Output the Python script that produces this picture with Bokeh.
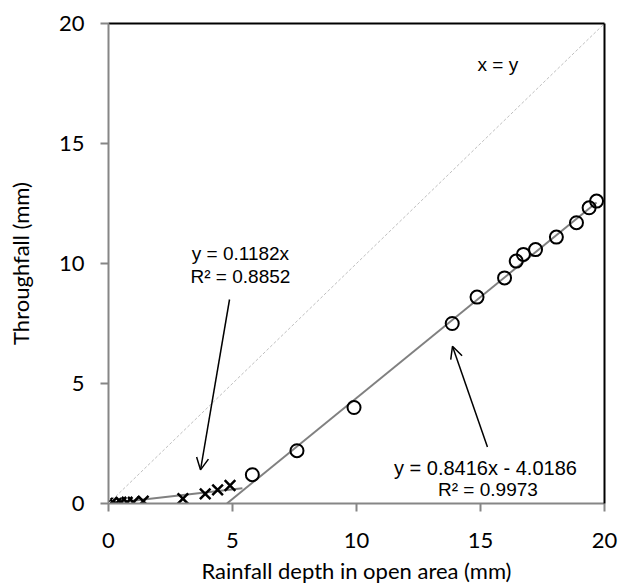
from bokeh.plotting import figure
from bokeh.models import (FixedTicker, LinearAxis, Label, Arrow, OpenHead, Slope, Range1d)
from bokeh.embed import file_html
from bokeh.resources import INLINE

# Data
below_x = [0.0, 0.1, 0.3, 0.5, 0.75, 1.0, 1.4, 3.0, 3.9, 4.4, 4.9]
below_y = [0.0, 0.0, 0.0, 0.05, 0.05, 0.05, 0.1, 0.2, 0.4, 0.57, 0.75]
above_x = [5.8, 7.6, 9.9, 13.86, 14.86, 15.97, 16.44, 16.73, 17.22, 18.06, 18.87, 19.38, 19.68]
above_y = [1.2, 2.2, 4.0, 7.5, 8.6, 9.4, 10.1, 10.38, 10.58, 11.1, 11.7, 12.32, 12.6]
fit1_slope = 0.1182
fit1_x = [0.0, 5.4]
fit2_slope = 0.8416
fit2_intercept = -4.0186
fit2_xmax = 19.68
ticks = [0, 5, 10, 15, 20]

TICK_FONT = "Lato"
ANN_FONT = "Liberation Sans"
AXIS_GRAY = "#868686"

p = figure(width=619, height=586, output_backend="svg", toolbar_location=None,
           x_range=Range1d(0, 20), y_range=Range1d(0, 20),
           min_border_left=108, min_border_right=15, min_border_top=23, min_border_bottom=83)
p.outline_line_color = None
p.xgrid.visible = False
p.ygrid.visible = False
p.background_fill_color = "white"

for ax in (p.xaxis[0], p.yaxis[0]):
    ax.ticker = FixedTicker(ticks=ticks)
    ax.minor_tick_line_color = None
    ax.major_tick_in = 0
    ax.major_tick_out = 8
    ax.major_tick_line_color = AXIS_GRAY
    ax.major_tick_line_width = 2
    ax.axis_line_color = AXIS_GRAY
    ax.axis_line_width = 2
    ax.major_label_text_font = TICK_FONT
    ax.major_label_text_font_size = "22px"
    ax.major_label_text_color = "black"
    ax.axis_label_text_font = TICK_FONT
    ax.axis_label_text_font_size = "22px"
    ax.axis_label_text_font_style = "normal"
    ax.axis_label_text_color = "black"
p.xaxis.axis_label = "Rainfall depth in open area (mm)"
p.yaxis.axis_label = "Throughfall (mm)"
p.xaxis.major_label_standoff = 21
p.yaxis.major_label_standoff = 16
p.xaxis.axis_label_standoff = 6
p.yaxis.axis_label_standoff = 22

for loc in ("above", "right"):
    a = LinearAxis(ticker=FixedTicker(ticks=[]), axis_line_color="black", axis_line_width=2,
                   major_tick_line_color=None, minor_tick_line_color=None,
                   major_label_text_font_size="0px")
    p.add_layout(a, loc)

# x = y reference line
p.add_layout(Slope(gradient=1, y_intercept=0, line_color="#BFBFBF", line_width=1, line_dash="3 2"))

# trend lines
p.line(fit1_x, [fit1_slope * v for v in fit1_x], line_color="#808080", line_width=2)
x2 = [-fit2_intercept / fit2_slope, fit2_xmax]
p.line(x2, [fit2_slope * v + fit2_intercept for v in x2], line_color="#808080", line_width=2)

p.scatter(below_x, below_y, marker="x", size=15, line_color="black", line_width=2.5)
p.scatter(above_x, above_y, marker="circle", size=13, line_color="black", line_width=2,
          fill_color=None)

def lab(x, y, t, size="19px"):
    p.add_layout(Label(x=x, y=y, text=t, text_font=ANN_FONT, text_font_size=size,
                       text_align="center", text_baseline="middle", text_color="black"))

lab(15.7, 18.3, "x = y")
lab(5.32, 10.4, "y = 0.1182x")
lab(5.32, 9.45, "R\u00b2 = 0.8852")
lab(15.2, 1.5, "y = 0.8416x - 4.0186", "20px")
lab(15.3, 0.57, "R\u00b2 = 0.9973")

p.add_layout(Arrow(end=OpenHead(size=12, line_width=1.5, line_color="black"),
                   x_start=4.88, y_start=8.5, x_end=3.71, y_end=1.4,
                   line_width=1.5, line_color="black"))
p.add_layout(Arrow(end=OpenHead(size=12, line_width=1.5, line_color="black"),
                   x_start=15.28, y_start=2.35, x_end=13.87, y_end=6.55,
                   line_width=1.5, line_color="black"))

open("out.html", "w").write(file_html(p, INLINE))
